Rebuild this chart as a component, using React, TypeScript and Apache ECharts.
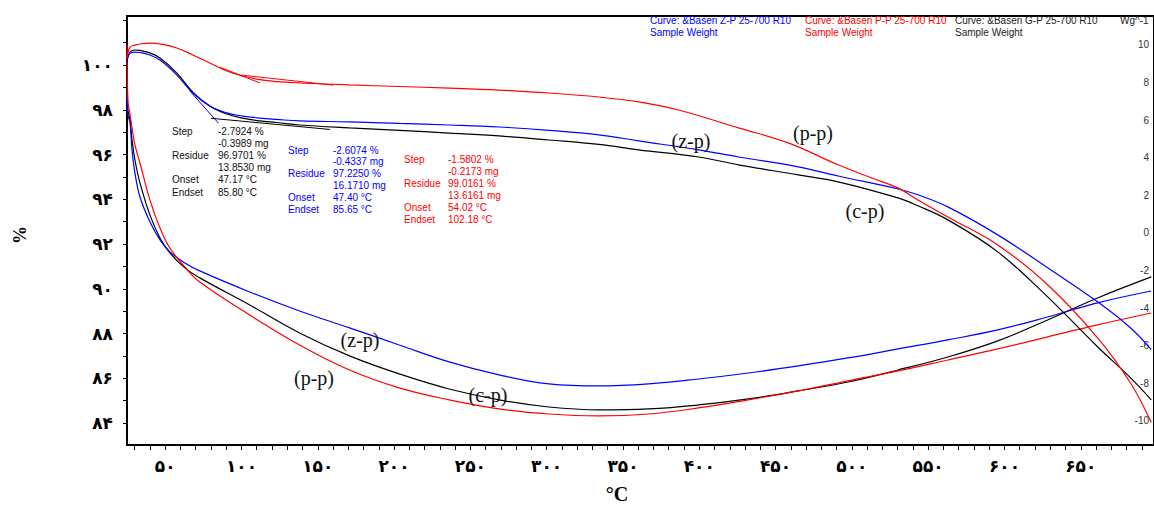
import React, { useEffect, useRef } from "react";
import * as echarts from "echarts";

// ---------- data ----------
const tgaTemp = [25, 27, 30.2, 33.5, 40, 46.6, 57.7, 68.1, 79.2, 90.4, 100.8, 111.9, 123, 138.1, 170.8, 203.4, 236.1, 268.8, 301.5, 334.2, 360.3, 399.5, 425.7, 464.9, 491, 530.2, 543.3, 562.9, 595.6, 628.3, 661, 682.5, 696.2];
const tgaZP = [100.22, 100.54, 100.58, 100.56, 100.45, 100.22, 99.55, 98.75, 98.17, 97.86, 97.72, 97.63, 97.57, 97.5, 97.46, 97.39, 97.32, 97.23, 97.08, 96.88, 96.61, 96.21, 95.89, 95.45, 95.04, 94.46, 94.2, 93.66, 92.41, 90.94, 89.42, 88.26, 87.28];
const tgaCP = [100.13, 100.58, 100.67, 100.65, 100.54, 100.31, 99.64, 98.79, 98.17, 97.81, 97.63, 97.5, 97.43, 97.32, 97.19, 97.08, 96.96, 96.83, 96.65, 96.45, 96.21, 95.89, 95.54, 95.09, 94.78, 94.06, 93.71, 93.08, 91.65, 89.64, 87.41, 86.03, 85.04];
const tgaTempPP = [25, 27, 30.2, 33.5, 40, 46.6, 57.7, 68.1, 79.2, 90.4, 100.8, 111.9, 123, 138.1, 170.8, 203.4, 236.1, 268.8, 301.5, 334.2, 360.3, 386.4, 425.7, 458.3, 491, 512.6, 530.2, 543.3, 562.9, 595.6, 628.3, 661, 682.5, 696.2];
const tgaPP = [100.31, 100.8, 100.89, 100.94, 100.98, 100.94, 100.76, 100.45, 100.09, 99.73, 99.51, 99.35, 99.26, 99.2, 99.11, 99.04, 98.97, 98.88, 98.75, 98.57, 98.35, 97.99, 97.19, 96.52, 95.54, 94.96, 94.51, 93.97, 93.21, 91.96, 90.18, 87.81, 85.8, 84.02];

const dscTemp = [25, 25.6, 27, 28.3, 30.2, 33.5, 40, 46.6, 53.1, 62.9, 72.7, 105.4, 138.1, 170.8, 203.4, 236.1, 268.8, 301.5, 334.2, 366.8, 399.5, 432.2, 464.9, 497.5, 530.2, 562.9, 595.6, 628.3, 661, 696.2];
const dscZP = [7.34, 6.28, 5.85, 4.41, 3.19, 1.91, 0.59, -0.37, -1.01, -1.6, -2.02, -3.14, -4.15, -5.05, -5.96, -6.86, -7.55, -8.03, -8.14, -8.03, -7.77, -7.45, -7.07, -6.65, -6.17, -5.69, -5.16, -4.47, -3.72, -3.09];
const dscCP = [7.61, 6.54, 6.01, 4.95, 3.88, 2.66, 0.96, -0.27, -1.06, -1.86, -2.39, -3.83, -5.32, -6.54, -7.5, -8.3, -8.88, -9.26, -9.41, -9.36, -9.15, -8.83, -8.4, -7.93, -7.29, -6.6, -5.74, -4.63, -3.46, -2.34];
const dscPP = [10.0, 7.07, 6.28, 5.59, 4.68, 3.72, 1.76, 0.27, -0.8, -1.81, -2.61, -4.36, -5.96, -7.29, -8.24, -8.88, -9.36, -9.63, -9.73, -9.63, -9.31, -8.88, -8.4, -7.87, -7.34, -6.76, -6.17, -5.53, -4.89, -4.26];

// tangent construction lines of the step evaluation
const tanCPTemp = [66, 85];
const tanCP = [98.85, 97.4];
const baseCPTemp = [80, 158];
const baseCP = [97.62, 97.12];
const tanPPTemp = [86, 112];
const tanPP = [99.9, 99.2];
const basePPTemp = [100, 160];
const basePP = [99.55, 99.1];

// ticks / labels
const xLabelValues = [50, 100, 150, 200, 250, 300, 350, 400, 450, 500, 550, 600, 650];
const xTickValues = Array.from({ length: 67 }, (_, i) => 30 + i * 10);
const yLabelValues = [84, 86, 88, 90, 92, 94, 96, 98, 100];
const yTickValues = Array.from({ length: 20 }, (_, i) => 83 + i);
const y2LabelValues = [-10, -8, -6, -4, -2, 0, 2, 4, 6, 8, 10];

const stepBlack = [["Step", "-2.7924 %"], ["", "-0.3989 mg"], ["Residue", "96.9701 %"], ["", "13.8530 mg"], ["Onset", "47.17 °C"], ["Endset", "85.80 °C"]];
const stepBlue = [["Step", "-2.6074 %"], ["", "-0.4337 mg"], ["Residue", "97.2250 %"], ["", "16.1710 mg"], ["Onset", "47.40 °C"], ["Endset", "85.65 °C"]];
const stepRed = [["Step", "-1.5802 %"], ["", "-0.2173 mg"], ["Residue", "99.0161 %"], ["", "13.6161 mg"], ["Onset", "54.02 °C"], ["Endset", "102.18 °C"]];

const faDigits = ["۰", "۱", "۲", "۳", "۴", "۵", "۶", "۷", "۸", "۹"];
const toFa = (v: number) => String(v).replace(/[0-9]/g, (d) => faDigits[Number(d)]);
const zip = (a: number[], b: number[]) => a.map((t, i) => [t, b[i]]);

const BLUE = "#0000ff";
const RED = "#ff0000";
const BLACK = "#000000";

function txt(text: string, x: number, y: number, fill: string, size: number, extra: any = {}) {
  return {
    type: "text",
    x,
    y,
    silent: true,
    z: 100,
    style: {
      text,
      fill,
      fontSize: size,
      fontFamily: "Liberation Sans, Arial, sans-serif",
      align: "left",
      textAlign: "left",
      verticalAlign: "middle",
      textVerticalAlign: "middle",
      ...extra,
    },
  };
}

function stepBlock(rows: string[][], x1: number, x2: number, y0: number, dy: number, color: string) {
  const out: any[] = [];
  rows.forEach((r, i) => {
    if (r[0]) out.push(txt(r[0], x1, y0 + i * dy, color, 10));
    out.push(txt(r[1], x2, y0 + i * dy, color, 10));
  });
  return out;
}

function curveLabel(text: string, x: number, y: number) {
  return txt(text, x, y, "#111", 20, {
    fontFamily: "Liberation Serif, Times New Roman, serif",
    align: "center",
    textAlign: "center",
  });
}

export default function App() {
  const ref = useRef<HTMLDivElement>(null);
  useEffect(() => {
    const chart = echarts.init(ref.current!, null, { renderer: "svg" });
    const lineSeries = (name: string, data: number[][], color: string, yIdx: number, width = 1.2, smooth: any = 0.4) => ({
      name,
      type: "line",
      data,
      yAxisIndex: yIdx,
      showSymbol: false,
      symbol: "none",
      smooth,
      lineStyle: { color, width },
      itemStyle: { color },
      silent: true,
      z: 3,
    });
    const option: any = {
      animation: false,
      backgroundColor: "#ffffff",
      grid: { left: 127, top: 16, right: -3, bottom: 60, show: true, borderColor: "#000", borderWidth: 2, backgroundColor: "transparent" },
      xAxis: {
        type: "value",
        min: 25,
        max: 698,
        axisLine: { show: true, onZero: false, lineStyle: { color: "#000", width: 2 } },
        axisTick: { show: true, customValues: xTickValues, length: 5, lineStyle: { color: "#000", width: 1 } },
        axisLabel: {
          customValues: xLabelValues,
          formatter: (v: number) => toFa(v),
          fontSize: 17,
          fontWeight: "bold",
          fontFamily: "DejaVu Sans",
          color: "#000",
          margin: 12,
        },
        splitLine: { show: false },
      },
      yAxis: [
        {
          type: "value",
          min: 83.02,
          max: 102.19,
          position: "left",
          axisLine: { show: true, onZero: false, lineStyle: { color: "#000", width: 2 } },
          axisTick: { show: true, customValues: yTickValues, length: 4, lineStyle: { color: "#000" } },
          axisLabel: {
            customValues: yLabelValues,
            formatter: (v: number) => toFa(v),
            fontSize: 17,
            fontWeight: "bold",
            fontFamily: "DejaVu Sans",
            color: "#000",
            margin: 14,
          },
          splitLine: { show: false },
        },
        {
          type: "value",
          min: -11.28,
          max: 11.54,
          position: "right",
          axisLine: { show: false, onZero: false },
          axisTick: { show: false },
          axisLabel: {
            inside: true,
            customValues: y2LabelValues,
            fontSize: 10,
            color: "#333",
            fontFamily: "Liberation Sans, Arial, sans-serif",
            margin: 5,
          },
          splitLine: { show: false },
        },
      ],
      series: [
        lineSeries("DSC c-p", zip(dscTemp, dscCP), BLACK, 1),
        lineSeries("DSC z-p", zip(dscTemp, dscZP), BLUE, 1),
        lineSeries("DSC p-p", zip(dscTemp, dscPP), RED, 1),
        lineSeries("TGA c-p", zip(tgaTemp, tgaCP), BLACK, 0),
        lineSeries("TGA z-p", zip(tgaTemp, tgaZP), BLUE, 0),
        lineSeries("TGA p-p", zip(tgaTempPP, tgaPP), RED, 0),
        lineSeries("tan c-p", zip(tanCPTemp, tanCP), BLUE, 0, 1, false),
        lineSeries("base c-p", zip(baseCPTemp, baseCP), BLACK, 0, 1, false),
        lineSeries("tan p-p", zip(tanPPTemp, tanPP), RED, 0, 1, false),
        lineSeries("base p-p", zip(basePPTemp, basePP), RED, 0, 1, false),
      ],
      graphic: [
        // header legend
        txt("Curve: &Baseri Z-P 25-700 R10", 650, 20, BLUE, 10),
        txt("Sample Weight", 650, 32, BLUE, 10),
        txt("Curve: &Baseri P-P 25-700 R10", 805, 20, RED, 10),
        txt("Sample Weight", 805, 32, RED, 10),
        txt("Curve: &Baseri G-P 25-700 R10", 955, 20, "#222", 10),
        txt("Sample Weight", 955, 32, "#222", 10),
        txt("Wg^-1", 1120, 20, "#222", 10),
        // step evaluations
        ...stepBlock(stepBlack, 172, 218, 131, 12.2, "#111"),
        ...stepBlock(stepBlue, 288, 333, 150, 11.9, BLUE),
        ...stepBlock(stepRed, 404, 448, 159, 12, RED),
        // curve labels
        curveLabel("(z-p)", 691, 141),
        curveLabel("(p-p)", 813, 133),
        curveLabel("(c-p)", 865, 211),
        curveLabel("(z-p)", 360, 340),
        curveLabel("(p-p)", 314, 378),
        curveLabel("(c-p)", 488, 395),
        // axis titles
        { ...txt("%", 20, 235, "#000", 18, {
          fontFamily: "Liberation Serif, serif",
          fontWeight: "bold",
          align: "center",
          textAlign: "center",
        }), rotation: Math.PI / 2 },
        txt("°C", 617, 494, "#000", 20, {
          fontFamily: "Liberation Serif, serif",
          fontWeight: "bold",
          align: "center",
          textAlign: "center",
        }),
      ],
    };
    chart.setOption(option);
    return () => chart.dispose();
  }, []);
  return (
    <div
      ref={ref}
      style={{ position: "fixed", left: 0, top: 0, width: 1154, height: 505, background: "#fff" }}
    />
  );
}
